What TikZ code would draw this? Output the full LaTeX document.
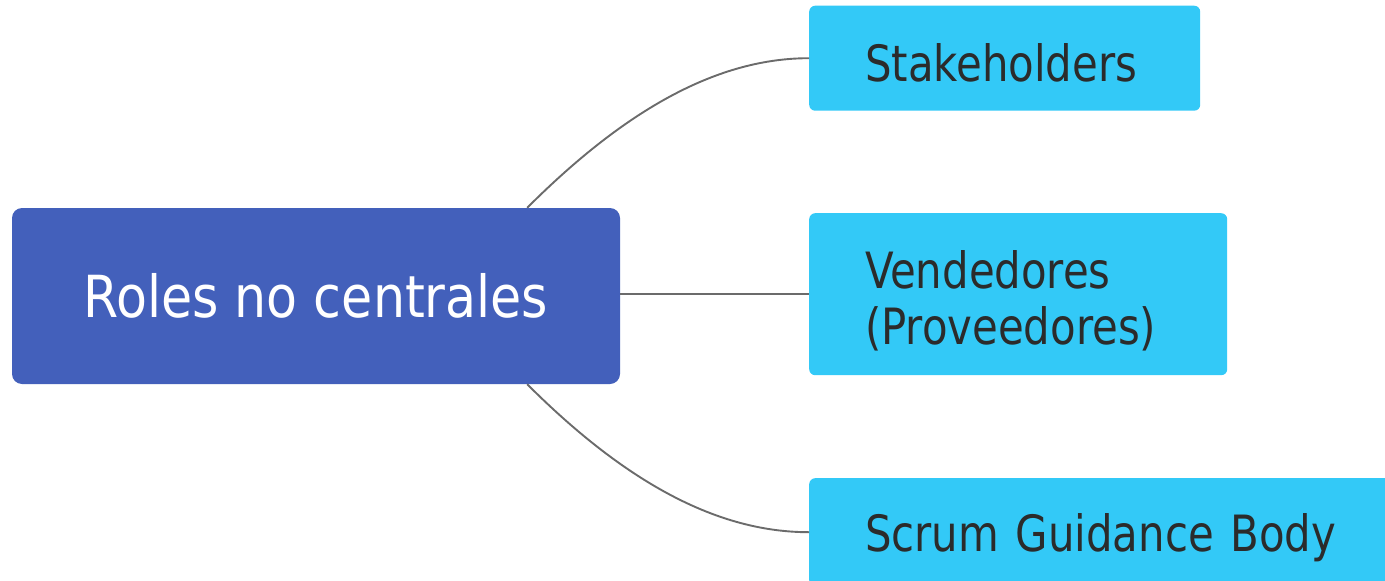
\documentclass[tikz,border=0pt]{standalone}
\usepackage{fontspec}
\newfontfamily\mapfont[FakeStretch=0.93]{DejaVu Sans Condensed}
\newfontfamily\rootfont[FakeStretch=0.97]{DejaVu Sans Condensed}
\usetikzlibrary{positioning}
\definecolor{rootblue}{HTML}{4360BB}
\definecolor{leafblue}{HTML}{33C9F7}
\definecolor{leaftext}{HTML}{2B2B2B}
\definecolor{linkgray}{HTML}{6B6B6B}
\tikzset{
  rootbox/.style={fill=rootblue, rounded corners=10pt, text=white, inner sep=0pt,
    minimum width=608pt, minimum height=176pt, align=center,
    font=\rootfont\fontsize{58}{68}\selectfont},
  leafbox/.style={fill=leafblue, rounded corners=6pt, text=leaftext, anchor=north west,
    inner xsep=56pt, inner ysep=0pt, align=left,
    font=\mapfont\fontsize{50}{56}\selectfont},
  link/.style={draw=linkgray, line width=1.9pt}
}
\begin{document}
\begin{tikzpicture}[x=1pt, y=-1pt]
  \useasboundingbox (0,0) rectangle (1385,581);
  \clip (0,0) rectangle (1385,581);
  % central topic
  \node[rootbox, text height=46pt, text depth=4pt] (root) at (316,296) {Roles no centrales};
  % branches
  \node[leafbox, minimum height=105pt, text width=279pt, text height=50pt, text depth=4pt]
    (stk) at (809,5.5) {Stakeholders};
  \node[leafbox, minimum height=162pt, text width=306pt, text height=44pt, text depth=56pt]
    (ven) at (809,213) {Vendedores\\(Proveedores)};
  \node[leafbox, minimum height=108pt, text width=520pt, text height=42pt, text depth=4pt]
    (scr) at (809,478) {Scrum Guidance Body};
  % connectors
  \coordinate (rtop) at ([xshift=-93pt]root.north east);
  \coordinate (rbot) at ([xshift=-93pt]root.south east);
  \draw[link] (rtop) .. controls +(100,-100) and +(-90,0) .. (stk.west);
  \draw[link] (ven.west -| root.east) -- (ven.west);
  \draw[link] (rbot) .. controls +(100,100) and +(-90,0) .. (scr.west);
\end{tikzpicture}
\end{document}
